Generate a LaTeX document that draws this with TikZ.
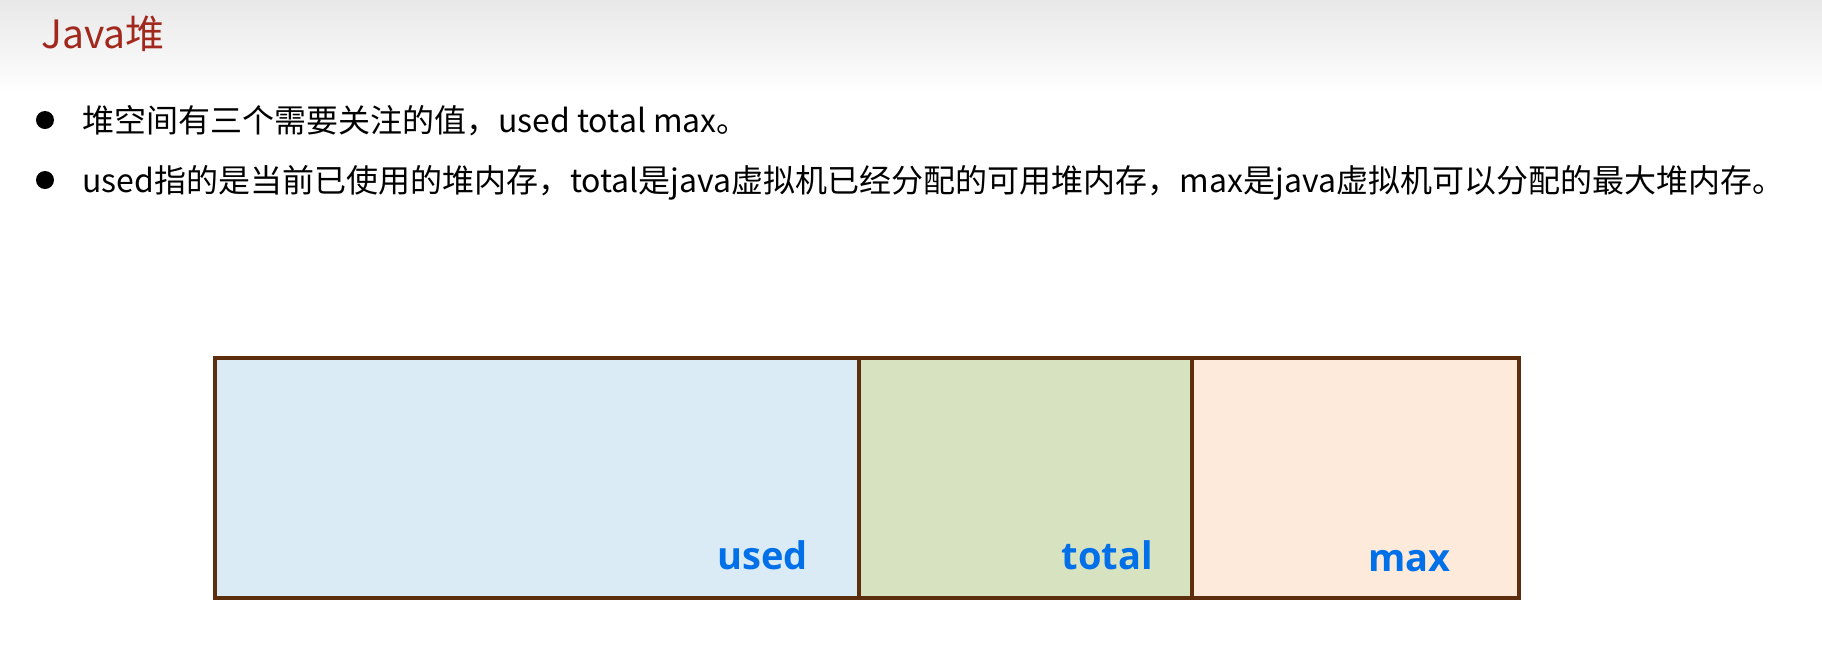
\documentclass[tikz,border=0pt]{standalone}
\usepackage{fontspec}
\setmainfont{Noto Sans CJK SC}
\newfontfamily\lblfont{Open Sans}
\usetikzlibrary{positioning}
\definecolor{titlered}{RGB}{160,40,28}
\definecolor{framebrown}{RGB}{92,46,14}
\definecolor{usedblue}{RGB}{218,235,245}
\definecolor{totalgreen}{RGB}{215,226,192}
\definecolor{maxpeach}{RGB}{253,234,219}
\definecolor{lblblue}{RGB}{0,112,232}

\begin{document}
\begin{tikzpicture}[x=1pt,y=-1pt,
  cell/.style={draw=framebrown,line width=3.5pt,minimum height=240pt,inner sep=0pt,outer sep=0pt},
  lbl/.style={text=lblblue,font=\lblfont\bfseries\fontsize{38}{44}\selectfont,inner sep=0pt},
  bullettext/.style={font=\fontsize{32}{38}\selectfont,inner sep=0pt,anchor=base west}]
  \useasboundingbox (0,0) rectangle (1822,662);
  \shade[top color=black!9,bottom color=white] (0,0) rectangle (1822,95);
  \node[text=titlered,font=\fontsize{39}{47}\selectfont,inner sep=0pt,anchor=base west] (title) at (41,48) {Java堆};
  \fill (45,120) circle (9pt) coordinate (dot1);
  \fill (45,180) circle (9pt) coordinate (dot2);
  \node[bullettext] (line1) at (82,132) {堆空间有三个需要关注的值，used total max。};
  \node[bullettext] (line2) at (82,192) {used指的是当前已使用的堆内存，total是java虚拟机已经分配的可用堆内存，max是java虚拟机可以分配的最大堆内存。};
  \node[cell,fill=usedblue,minimum width=644pt,anchor=north west] (used) at (215,358) {};
  \node[cell,fill=totalgreen,minimum width=333pt,right=0pt of used] (total) {};
  \node[cell,fill=maxpeach,minimum width=327pt,right=0pt of total] (max) {};
  \node[lbl,anchor=base east] (usedlbl) at ([xshift=-51pt,yshift=29pt]used.south east) {used};
  \node[lbl,anchor=base east] (totallbl) at ([xshift=-39pt,yshift=29pt]total.south east) {total};
  \node[lbl,anchor=base east] (maxlbl) at ([xshift=-68pt,yshift=27pt]max.south east) {max};
\end{tikzpicture}
\end{document}
